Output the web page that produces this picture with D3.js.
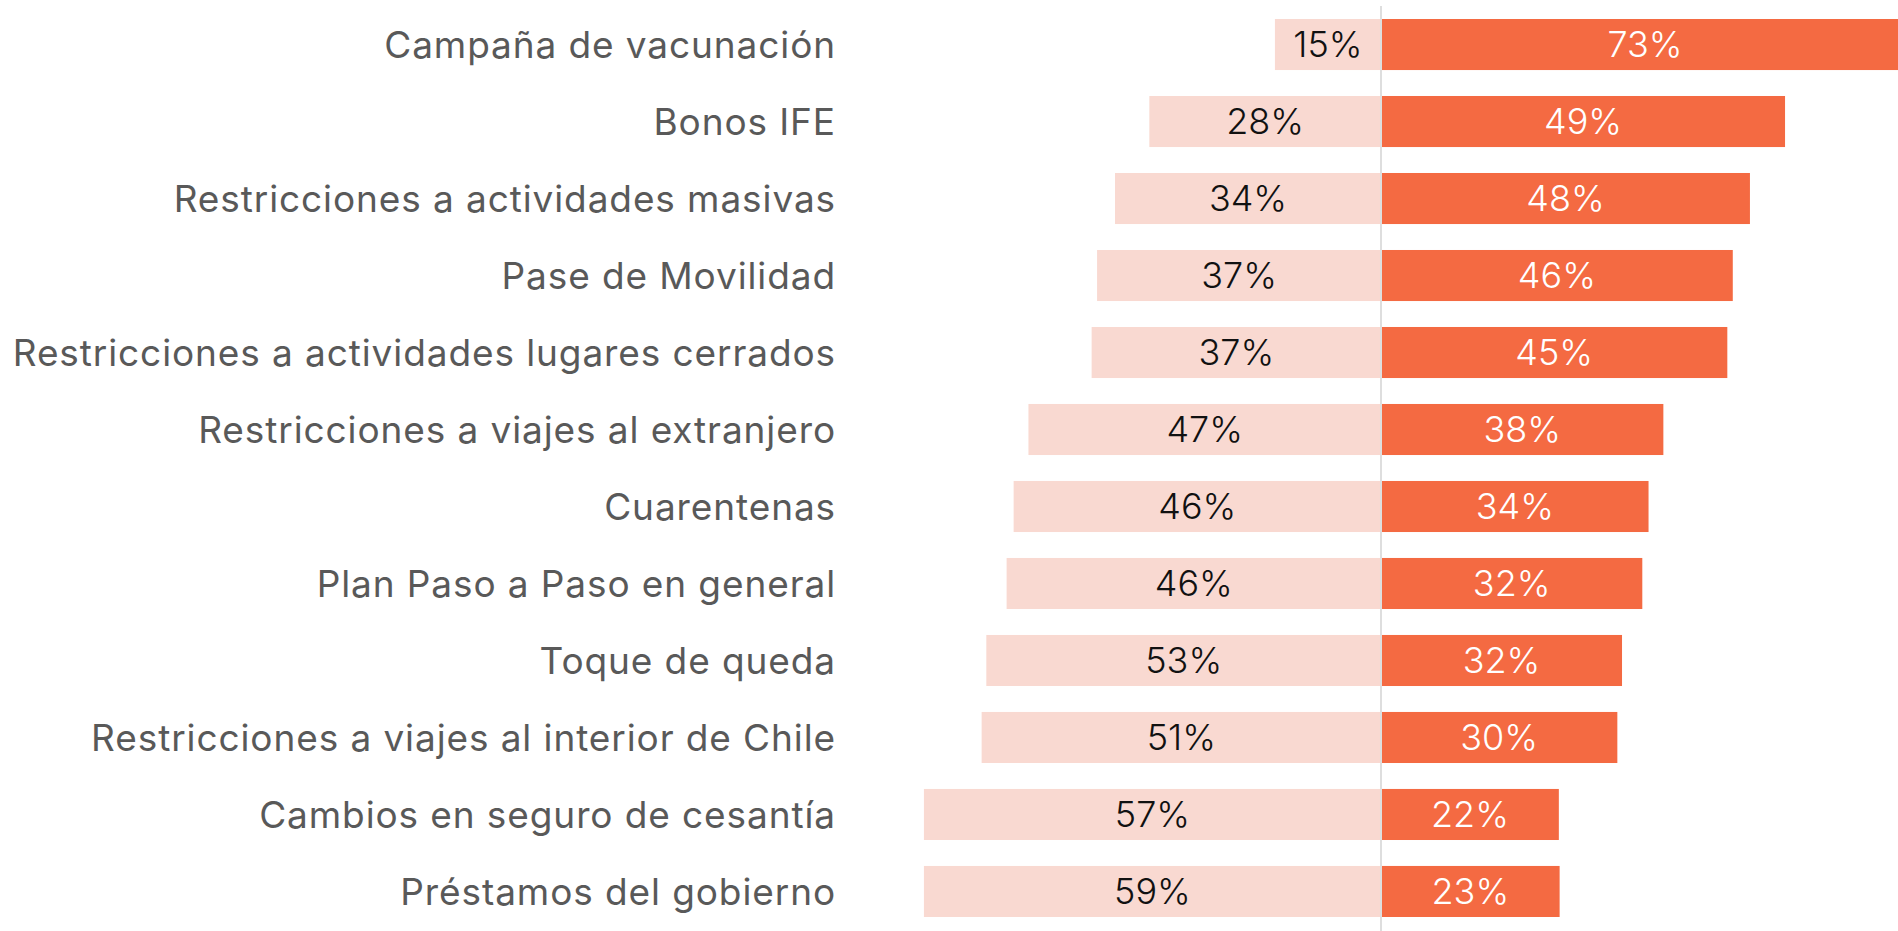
<!DOCTYPE html>
<html lang="es">
<head>
<meta charset="utf-8">
<script src="https://cdn.jsdelivr.net/npm/d3@7"></script>
<style>
    html, body { margin: 0; padding: 0; background: #fff; overflow: hidden; }
    #chart { width: 1898px; height: 931px; }
</style>
</head>
<body>
<div id="chart"></div>
<script>
'use strict';

// Categories (top to bottom)
const medidas = [
    'Campaña de vacunación',
    'Bonos IFE',
    'Restricciones a actividades masivas',
    'Pase de Movilidad',
    'Restricciones a actividades lugares cerrados',
    'Restricciones a viajes al extranjero',
    'Cuarentenas',
    'Plan Paso a Paso en general',
    'Toque de queda',
    'Restricciones a viajes al interior de Chile',
    'Cambios en seguro de cesantía',
    'Préstamos del gobierno'
];

// Printed labels (%)
const etiquetaIzq = [15, 28, 34, 37, 37, 47, 46, 46, 53, 51, 57, 59];
const etiquetaDer = [73, 49, 48, 46, 45, 38, 34, 32, 32, 30, 22, 23];

// Bar extents as drawn in the picture (% units)
const barraIzq = [13.6, 29.7, 34.1, 36.4, 37.1, 45.2, 47.1, 48.0, 50.6, 51.2, 58.6, 58.6];
const barraDer = [67.7, 51.8, 47.3, 45.1, 44.4, 36.2, 34.3, 33.5, 30.9, 30.3, 22.8, 22.9];

class Divergente {

    // Configs
    w = 1898;
    h = 931;

    constructor(_ref) {
        this.parent = _ref;
        this.data = medidas.map((m, i) => ({
            medida: m,
            izq: barraIzq[i],
            der: barraDer[i],
            labIzq: etiquetaIzq[i],
            labDer: etiquetaDer[i]
        }));
        this.initVis();
    }

    initVis() {
        const vis = this;

        vis.svg = d3.select(`#${vis.parent}`)
            .append('svg')
            .attr('width', vis.w)
            .attr('height', vis.h)
            .style('display', 'block');

        // Major defs
        vis.center = 1381;
        vis.pxPerPct = 7.8;
        vis.font = 'Inter, "Open Sans", sans-serif';

        // Scales
        vis.x = d3.scaleLinear()
            .domain([-100, 100])
            .range([vis.center - 100 * vis.pxPerPct, vis.center + 100 * vis.pxPerPct]);

        vis.y = d3.scaleBand()
            .domain(medidas)
            .range([19, 917])
            .paddingInner(0.337)
            .paddingOuter(0);

        vis.barsG = vis.svg.append('g').attr('class', 'barsG');

        // Left bars
        vis.barsG.selectAll('.izq')
            .data(vis.data)
            .join('rect')
            .attr('class', 'izq')
            .attr('x', d => vis.x(-d.izq))
            .attr('y', d => vis.y(d.medida))
            .attr('width', d => vis.x(0) - vis.x(-d.izq))
            .attr('height', vis.y.bandwidth())
            .attr('fill', '#f9d9d1');

        // Right bars
        vis.barsG.selectAll('.der')
            .data(vis.data)
            .join('rect')
            .attr('class', 'der')
            .attr('x', vis.x(0))
            .attr('y', d => vis.y(d.medida))
            .attr('width', d => vis.x(d.der) - vis.x(0))
            .attr('height', vis.y.bandwidth())
            .attr('fill', '#f46a42');

        // Center line
        vis.svg.append('line')
            .attr('x1', vis.x(0))
            .attr('x2', vis.x(0))
            .attr('y1', 6)
            .attr('y2', vis.h)
            .attr('stroke', '#dedede')
            .attr('stroke-width', 2);

        // Value labels
        vis.svg.append('g').selectAll('text')
            .data(vis.data)
            .join('text')
            .attr('x', d => (vis.x(-d.izq) + vis.x(0)) / 2)
            .attr('y', d => vis.y(d.medida) + vis.y.bandwidth() / 2)
            .attr('dy', '0.36em')
            .attr('text-anchor', 'middle')
            .style('font-family', vis.font)
            .style('font-size', '36px')
            .style('font-weight', 300)
            .attr('fill', '#111')
            .text(d => `${d.labIzq}%`);

        vis.svg.append('g').selectAll('text')
            .data(vis.data)
            .join('text')
            .attr('x', d => (vis.x(d.der) + vis.x(0)) / 2)
            .attr('y', d => vis.y(d.medida) + vis.y.bandwidth() / 2)
            .attr('dy', '0.36em')
            .attr('text-anchor', 'middle')
            .style('font-family', vis.font)
            .style('font-size', '36px')
            .style('font-weight', 300)
            .attr('fill', '#fff')
            .text(d => `${d.labDer}%`);

        // Category labels
        vis.svg.append('g').selectAll('text')
            .data(vis.data)
            .join('text')
            .attr('x', 836)
            .attr('y', d => vis.y(d.medida) + vis.y.bandwidth() / 2)
            .attr('dy', '0.36em')
            .attr('text-anchor', 'end')
            .style('font-family', vis.font)
            .style('font-size', '37px')
            .style('letter-spacing', '0.9px')
            .attr('fill', '#595959')
            .text(d => d.medida);
    }
}

new Divergente('chart');
</script>
</body>
</html>
